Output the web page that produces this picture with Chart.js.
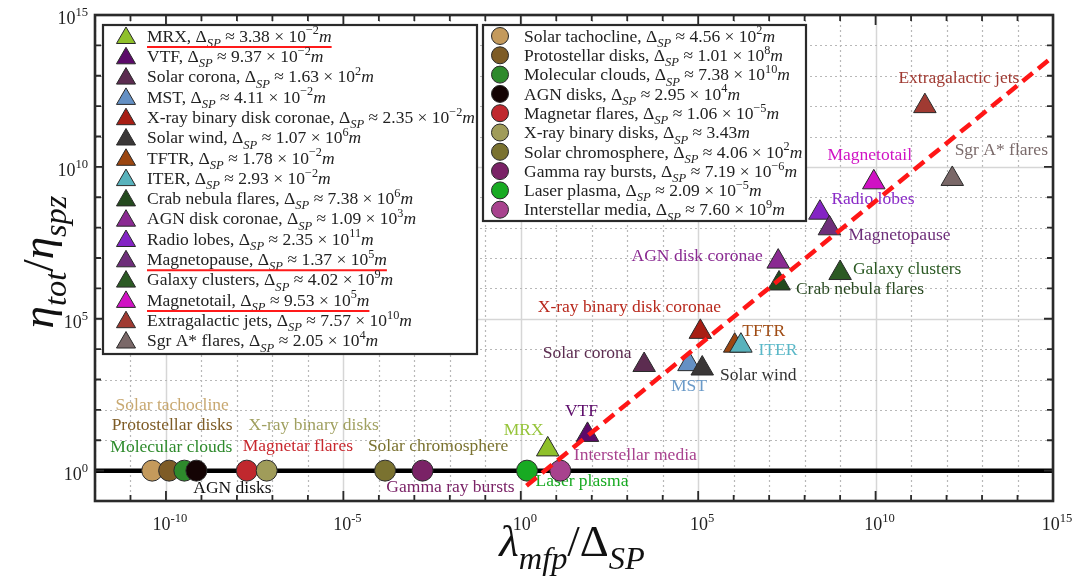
<!DOCTYPE html>
<html>
<head>
<meta charset="utf-8">
<script src="https://cdn.jsdelivr.net/npm/chart.js@4.4.1/dist/chart.umd.min.js"></script>
<style>
    html, body { margin: 0; padding: 0; background: #fff; }
</style>
</head>
<body>
<canvas id="chart" width="1083" height="577"></canvas>
<script>
// ─── Data ─────────────────────────────────────────────────────────────────────
const triNames = ["MRX", "VTF", "Solar corona", "MST", "X-ray binary disk coronae", "Solar wind", "TFTR", "ITER",
    "Crab nebula flares", "AGN disk coronae", "Radio lobes", "Magnetopause", "Galaxy clusters", "Magnetotail",
    "Extragalactic jets", "Sgr A* flares"];
const triX = [5.75, 76, 3.0e3, 5.5e4, 1.15e5, 1.3e5, 1.07e6, 1.6e6, 1.9e7, 1.8e7, 2.7e8, 5.0e8, 1.0e9, 8.9e9, 2.45e11, 1.45e12];
const triY = [5.0, 15, 3.0e3, 3.2e3, 3.7e4, 2.3e3, 1.3e4, 1.3e4, 1.45e6, 7.6e6, 3.1e8, 9.5e7, 3.2e6, 3.1e9, 1.0e12, 4.0e9];
const triDeltaMant = ["3.38", "9.37", "1.63", "4.11", "2.35", "1.07", "1.78", "2.93", "7.38", "1.09", "2.35", "1.37", "4.02", "9.53", "7.57", "2.05"];
const triDeltaExp = ["−2", "−2", "2", "−2", "−2", "6", "−2", "−2", "6", "3", "11", "5", "9", "5", "10", "4"];

const circNames = ["Solar tachocline", "Protostellar disks", "Molecular clouds", "AGN disks", "Magnetar flares",
    "X-ray binary disks", "Solar chromosphere", "Gamma ray bursts", "Laser plasma", "Interstellar media"];
const circX = [4.1e-11, 1.23e-10, 3.3e-10, 7.2e-10, 1.9e-8, 6.9e-8, 1.5e-4, 1.7e-3, 1.5, 13];
const circY = [1, 1, 1, 1, 1, 1, 1, 1, 1, 1];
const circDeltaMant = ["4.56", "1.01", "7.38", "2.95", "1.06", "3.43", "4.06", "7.19", "2.09", "7.60"];
const circDeltaExp = ["2", "8", "10", "4", "−5", null, "2", "−6", "−5", "9"];

const fitX = [1.45, 1e15];
const fitY = [0.32, 4.3e13];

const xTickExps = [-10, -5, 0, 5, 10, 15];
const yTickExps = [0, 5, 10, 15];
const underlined = ["MRX", "Magnetopause", "Magnetotail"];

// ─── Styles ───────────────────────────────────────────────────────────────────
const triColors = ["#8fc02a", "#5c0a6a", "#5c2c50", "#6490c4", "#a81e14", "#3a3737", "#9c4610", "#58b2bc",
    "#244a1e", "#8a2a92", "#8424c4", "#6e2e7a", "#2c5a24", "#d012c4", "#a03a32", "#7a6868"];
const triLabelColors = ["#96c43a", "#5c0a6a", "#5c2c50", "#6a9ac8", "#b8281c", "#333333", "#a04c14", "#5ab8c8",
    "#2a4a22", "#8a2a92", "#8a2ac8", "#6e2e7a", "#2c5a24", "#d012c4", "#a03a32", "#7a6a6a"];
const circColors = ["#c49a5c", "#7e5c26", "#2e8a2c", "#140404", "#c0282e", "#a09c5a", "#7a7230", "#7a2266", "#18aa22", "#a8428e"];
const circLabelColors = ["#c8a870", "#7e5c26", "#2e8a2c", "#111111", "#c8282e", "#a0a060", "#7a7230", "#7a2266", "#18aa22", "#a8428e"];

// label offsets from the marker, in px
const triLabelDx = [-24, -6, -57, 0, -71, 56, 29, 37, 81, -81, 53, 70, 67, -4, 34, 49];
const triLabelDy = [-19, -23, -12, 22, -24, 7, -14, 5, 6, -5, -13, 7, -4, -27, -28, -29];
const circLabelDx = [20, 3, -13, 36, 51, 47, 53, 28, 55, 75];
const circLabelDy = [-65, -45, -23, 18, -24, -45, -24, 17, 11, -15];

const SERIF = '"Liberation Serif", "DejaVu Serif", serif';
const LABEL_SIZE = 17.5;
const LEGEND_SIZE = 17.5;
const TITLE_SIZE = 45;

// ─── Rich text (sub/superscripts) ─────────────────────────────────────────────
function partFont(kind, size) {
    if (kind === "b") return `italic ${size * 0.72}px ${SERIF}`;
    if (kind === "p") return `${size * 0.7}px ${SERIF}`;
    if (kind === "i") return `italic ${size}px ${SERIF}`;
    return `${size}px ${SERIF}`;
}

function partShift(kind, size) {
    if (kind === "b") return size * 0.3;
    if (kind === "p") return -size * 0.42;
    return 0;
}

function richWidth(ctx, parts, size) {
    let w = 0;
    parts.forEach(([t, k]) => {
        ctx.font = partFont(k, size);
        w += ctx.measureText(t).width;
    });
    return w;
}

// y is the vertical middle of the main text
function drawRich(ctx, parts, x, y, size, color, align) {
    const w = richWidth(ctx, parts, size);
    let cx = align === "center" ? x - w / 2 : align === "right" ? x - w : x;
    const base = y + size * 0.33;
    ctx.save();
    ctx.fillStyle = color;
    ctx.textAlign = "left";
    ctx.textBaseline = "alphabetic";
    parts.forEach(([t, k]) => {
        ctx.font = partFont(k, size);
        ctx.fillText(t, cx, base + partShift(k, size));
        cx += ctx.measureText(t).width;
    });
    ctx.restore();
    return w;
}

function deltaParts(name, mant, exp) {
    const parts = [[name + ", Δ", "n"], ["SP", "b"], [" ≈ " + mant, "n"]];
    if (exp !== null) parts.push([" × 10", "n"], [exp, "p"]);
    parts.push(["m", "i"]);
    return parts;
}

function drawMarker(ctx, style, x, y, r, color) {
    ctx.save();
    ctx.beginPath();
    if (style === "triangle") {
        ctx.moveTo(x, y - r);
        ctx.lineTo(x + r * 0.866, y + r * 0.5);
        ctx.lineTo(x - r * 0.866, y + r * 0.5);
        ctx.closePath();
    } else {
        ctx.arc(x, y, r, 0, Math.PI * 2);
    }
    ctx.fillStyle = color;
    ctx.fill();
    ctx.lineWidth = 1;
    ctx.strokeStyle = "#2a2a2a";
    ctx.stroke();
    ctx.restore();
}

// ─── Decorations: grid, frame, ticks, labels, legends ─────────────────────────
const decoPlugin = {
    id: "deco",
    beforeDatasetsDraw(chart) {
        const { ctx, chartArea: a, scales: { x, y } } = chart;
        ctx.save();
        for (let e = -12; e <= 15; e++) {
            const px = Math.round(x.getPixelForValue(Math.pow(10, e))) + 0.5;
            if (e % 5 === 0) { ctx.strokeStyle = "#d6d6d6"; ctx.lineWidth = 1.5; ctx.setLineDash([]); }
            else { ctx.strokeStyle = "#b8b8b8"; ctx.lineWidth = 1.2; ctx.setLineDash([2, 3]); }
            ctx.beginPath(); ctx.moveTo(px, a.top); ctx.lineTo(px, a.bottom); ctx.stroke();
        }
        for (let e = -1; e <= 15; e++) {
            const py = Math.round(y.getPixelForValue(Math.pow(10, e))) + 0.5;
            if (e % 5 === 0) { ctx.strokeStyle = "#d6d6d6"; ctx.lineWidth = 1.5; ctx.setLineDash([]); }
            else { ctx.strokeStyle = "#b8b8b8"; ctx.lineWidth = 1.2; ctx.setLineDash([2, 3]); }
            ctx.beginPath(); ctx.moveTo(a.left, py); ctx.lineTo(a.right, py); ctx.stroke();
        }
        ctx.setLineDash([]);
        // y = 1 reference line
        const y1 = y.getPixelForValue(1);
        ctx.strokeStyle = "#000";
        ctx.lineWidth = 4.5;
        ctx.beginPath(); ctx.moveTo(a.left, y1); ctx.lineTo(a.right, y1); ctx.stroke();
        ctx.restore();

        // point labels
        ctx.save();
        ctx.textAlign = "center";
        ctx.textBaseline = "middle";
        ctx.font = `${LABEL_SIZE}px ${SERIF}`;
        triNames.forEach((n, i) => {
            ctx.fillStyle = triLabelColors[i];
            ctx.fillText(n, x.getPixelForValue(triX[i]) + triLabelDx[i], y.getPixelForValue(triY[i]) + triLabelDy[i]);
        });
        circNames.forEach((n, i) => {
            ctx.fillStyle = circLabelColors[i];
            ctx.fillText(n, x.getPixelForValue(circX[i]) + circLabelDx[i], y.getPixelForValue(circY[i]) + circLabelDy[i]);
        });
        ctx.restore();
    },
    afterDatasetsDraw(chart) {
        const { ctx, chartArea: a, scales: { x, y } } = chart;
        ctx.save();
        // ticks on all four sides
        ctx.strokeStyle = "#2a2a2a";
        ctx.lineWidth = 1.8;
        for (let e = -11; e <= 14; e++) {
            const px = x.getPixelForValue(Math.pow(10, e));
            const len = e % 5 === 0 ? 10 : 6;
            ctx.beginPath();
            ctx.moveTo(px, a.bottom); ctx.lineTo(px, a.bottom - len);
            ctx.moveTo(px, a.top); ctx.lineTo(px, a.top + len);
            ctx.stroke();
        }
        for (let e = 0; e <= 14; e++) {
            const py = y.getPixelForValue(Math.pow(10, e));
            const len = e % 5 === 0 ? 9 : 6;
            ctx.beginPath();
            ctx.moveTo(a.left, py); ctx.lineTo(a.left + len, py);
            ctx.moveTo(a.right, py); ctx.lineTo(a.right - len, py);
            ctx.stroke();
        }
        // frame
        ctx.lineWidth = 2.6;
        ctx.strokeRect(a.left, a.top, a.right - a.left, a.bottom - a.top);
        ctx.restore();

        // tick labels
        xTickExps.forEach((e) => {
            drawRich(ctx, [["10", "n"], [String(e), "p"]], x.getPixelForValue(Math.pow(10, e)) + 4, a.bottom + 23, 18, "#222", "center");
        });
        yTickExps.forEach((e) => {
            drawRich(ctx, [["10", "n"], [String(e), "p"]], a.left - 7, y.getPixelForValue(Math.pow(10, e)) + 3, 18, "#222", "right");
        });

        // axis titles
        drawRich(ctx, [["λ", "i"], ["mfp", "b"], ["/Δ", "n"], ["SP", "b"]], 572, 541, TITLE_SIZE, "#111", "center");
        ctx.save();
        ctx.translate(38, 262);
        ctx.rotate(-Math.PI / 2);
        drawRich(ctx, [["η", "i"], ["tot", "b"], ["/", "n"], ["η", "i"], ["spz", "b"]], 0, 0, TITLE_SIZE, "#111", "center");
        ctx.restore();

        // legends
        drawLegendBox(ctx, { left: 103, top: 25, right: 477, bottom: 354, markerX: 126, textX: 147, rowY: 36, step: 20.3 },
            triNames, triDeltaMant, triDeltaExp, triColors, "triangle", 11);
        drawLegendBox(ctx, { left: 483, top: 25, right: 806, bottom: 221, markerX: 500, textX: 524, rowY: 36, step: 19.3 },
            circNames, circDeltaMant, circDeltaExp, circColors, "circle", 8.5);
    },
};

function drawLegendBox(ctx, box, names, mants, exps, colors, style, r) {
    ctx.save();
    ctx.fillStyle = "#fff";
    ctx.fillRect(box.left, box.top, box.right - box.left, box.bottom - box.top);
    ctx.strokeStyle = "#2a2a2a";
    ctx.lineWidth = 2.2;
    ctx.strokeRect(box.left, box.top, box.right - box.left, box.bottom - box.top);
    ctx.restore();
    names.forEach((n, i) => {
        const ry = box.rowY + i * box.step;
        drawMarker(ctx, style, box.markerX, style === "triangle" ? ry + 2 : ry, r, colors[i]);
        const w = drawRich(ctx, deltaParts(n, mants[i], exps[i]), box.textX, ry, LEGEND_SIZE, "#222", "left");
        if (underlined.includes(n)) {
            ctx.save();
            ctx.strokeStyle = "#ff1a1a";
            ctx.lineWidth = 2;
            ctx.beginPath(); ctx.moveTo(box.textX, ry + 11); ctx.lineTo(box.textX + w, ry + 11); ctx.stroke();
            ctx.restore();
        }
    });
}

// ─── Chart ────────────────────────────────────────────────────────────────────
new Chart(document.getElementById("chart"), {
    type: "scatter",
    data: {
        datasets: [
            {
                type: "line",
                data: fitX.map((v, i) => ({ x: v, y: fitY[i] })),
                borderColor: "#ff1616",
                borderWidth: 4.5,
                borderDash: [13, 7],
                pointRadius: 0,
                fill: false,
            },
            {
                data: triX.map((v, i) => ({ x: v, y: triY[i] })),
                pointStyle: "triangle",
                pointRadius: 13,
                pointBackgroundColor: triColors,
                pointBorderColor: "#2a2a2a",
                pointBorderWidth: 1,
            },
            {
                data: circX.map((v, i) => ({ x: v, y: circY[i] })),
                pointStyle: "circle",
                pointRadius: 10.5,
                pointBackgroundColor: circColors,
                pointBorderColor: "#2a2a2a",
                pointBorderWidth: 1,
            },
        ],
    },
    options: {
        responsive: false,
        animation: false,
        devicePixelRatio: 1,
        layout: { padding: { left: 0, right: 30, top: 15, bottom: 0 } },
        plugins: { legend: { display: false }, tooltip: { enabled: false } },
        scales: {
            x: {
                type: "logarithmic", min: 1e-12, max: 1e15,
                ticks: { display: false }, grid: { display: false }, border: { display: false },
                afterFit: (s) => { s.height = 76; },
            },
            y: {
                type: "logarithmic", min: 0.1, max: 1e15,
                ticks: { display: false }, grid: { display: false }, border: { display: false },
                afterFit: (s) => { s.width = 95; },
            },
        },
    },
    plugins: [decoPlugin],
});
</script>
</body>
</html>
